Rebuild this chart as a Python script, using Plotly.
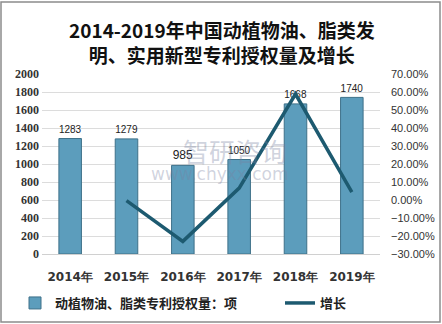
import plotly.graph_objects as go

years = ["2014年", "2015年", "2016年", "2017年", "2018年", "2019年"]
grants = [1283, 1279, 985, 1050, 1668, 1740]
growth_years = ["2015年", "2016年", "2017年", "2018年", "2019年"]
growth = [-0.0031, -0.2299, 0.066, 0.5886, 0.0432]

L, R, T, B = 42, 62, 74, 70
W, H = 442, 324
pw, ph = W - L - R, H - T - B

def px(x):
    return (x - L) / pw

def py(y):
    return (H - B - y) / ph

fig = go.Figure()
fig.add_trace(go.Bar(
    x=years, y=grants, name="动植物油、脂类专利授权量：项",
    marker=dict(color="#5C9DBC", line=dict(color="#3E7189", width=1)),
    width=0.4,
    text=[str(v) for v in grants], textposition="outside",
    textfont=dict(size=12, color="#222", family="Liberation Sans"),
    cliponaxis=False, legend="legend",
))
fig.add_trace(go.Scatter(
    x=growth_years, y=growth, name="增长", yaxis="y2", mode="lines",
    line=dict(color="#1D5A70", width=3.5), legend="legend2",
))

fig.update_layout(
    width=W, height=H,
    margin=dict(l=L, r=R, t=T, b=B, autoexpand=False),
    paper_bgcolor="white", plot_bgcolor="white",
    xaxis=dict(
        showline=True, linecolor="#d0d0d0",
        tickfont=dict(size=12, color="#333", family="DejaVu Sans", weight="bold"),
        ticks="", ticklabelstandoff=12,
    ),
    yaxis=dict(
        range=[0, 2000], dtick=200, showgrid=True, gridcolor="#dcdcdc",
        tickfont=dict(size=12, color="#333", family="Liberation Serif", weight="bold"),
        zeroline=False, ticks="", ticklabelstandoff=2,
    ),
    yaxis2=dict(
        overlaying="y", side="right", range=[-0.3, 0.7], dtick=0.1,
        tickformat=".2%", showgrid=False, zeroline=False, ticks="",
        ticklabelstandoff=10,
        tickfont=dict(size=11, color="#333", family="Liberation Sans"),
    ),
    showlegend=True,
    legend=dict(
        x=px(15), xanchor="left", y=py(303), yanchor="middle",
        font=dict(size=13, color="#222", family="Noto Sans CJK SC", weight="bold"),
        bgcolor="rgba(0,0,0,0)",
    ),
    legend2=dict(
        x=px(280), xanchor="left", y=py(303), yanchor="middle",
        font=dict(size=13, color="#222", family="Noto Sans CJK SC", weight="bold"),
        bgcolor="rgba(0,0,0,0)",
    ),
    font=dict(family="Noto Sans CJK SC"),
    shapes=[dict(type="rect", xref="paper", yref="paper",
                 x0=px(1), x1=px(440), y0=py(322), y1=py(2),
                 line=dict(color="#8c8c8c", width=1.5))],
    annotations=[
        dict(text="<b>2014-2019年中国动植物油、脂类发<br>明、实用新型专利授权量及增长</b>",
             xref="paper", yref="paper", x=px(222), y=py(42),
             xanchor="center", yanchor="middle", showarrow=False,
             font=dict(size=19, color="#111", family="Noto Sans CJK SC")),
        dict(text="智研咨询", xref="paper", yref="paper", x=px(235), y=py(150),
             showarrow=False, font=dict(size=26, color="rgba(120,130,160,0.35)")),
        dict(text="www.chyxx.com", xref="paper", yref="paper", x=px(220), y=py(174),
             showarrow=False, font=dict(size=17, color="rgba(120,130,160,0.35)", family="DejaVu Sans")),
    ],
)

fig.write_html("out.html")
